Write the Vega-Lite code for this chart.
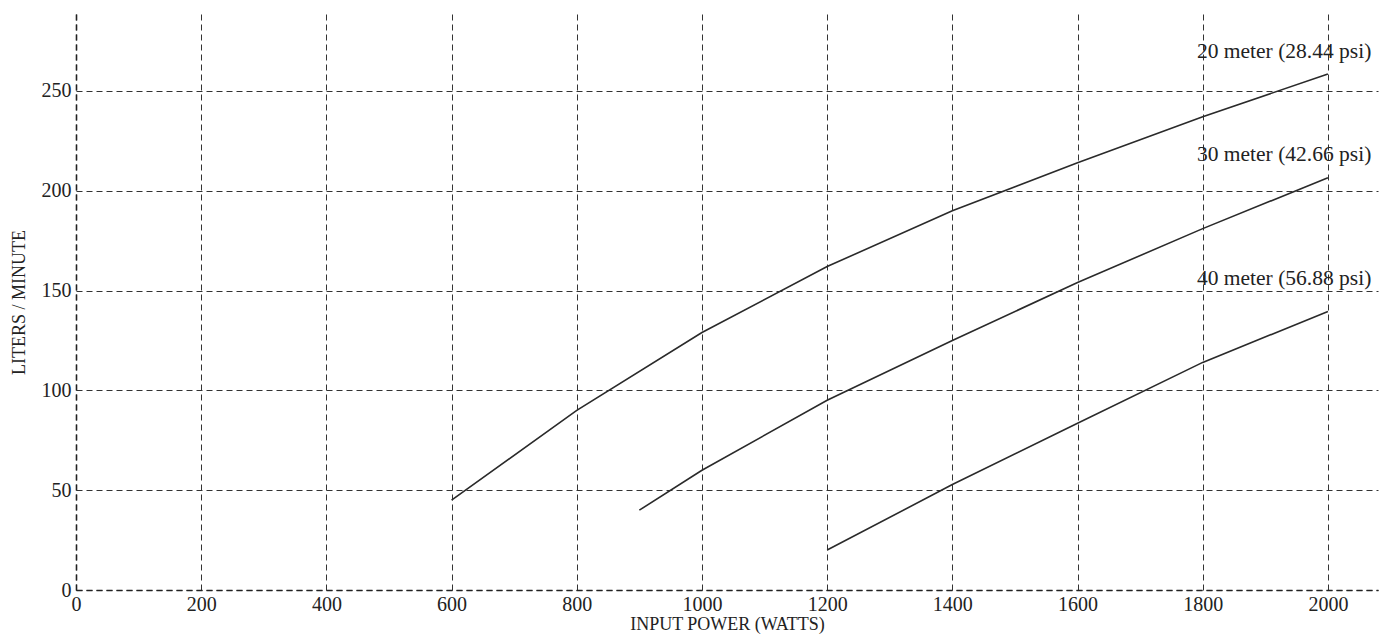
{
  "$schema": "https://vega.github.io/schema/vega-lite/v6.json",
  "width": 1302,
  "height": 576,
  "autosize": {"type": "none"},
  "padding": {"left": 76, "top": 14, "right": 4, "bottom": 47},
  "background": "white",
  "config": {
    "view": {"stroke": null},
    "font": "Liberation Serif",
    "axis": {
      "labelFont": "Liberation Serif",
      "titleFont": "Liberation Serif",
      "labelFontSize": 20,
      "titleFontSize": 18,
      "titleFontWeight": "normal",
      "labelColor": "#222",
      "titleColor": "#222",
      "grid": true,
      "gridColor": "#333",
      "gridDash": [6, 4],
      "gridWidth": 1,
      "gridOpacity": 1,
      "domainColor": "#222",
      "domainDash": [6, 4],
      "domainWidth": 1.6,
      "ticks": false
    }
  },
  "datasets": {
    "curves": [
      {"power": 600, "lpm": 45, "series": "20 meter"},
      {"power": 800, "lpm": 90, "series": "20 meter"},
      {"power": 1000, "lpm": 129, "series": "20 meter"},
      {"power": 1200, "lpm": 162, "series": "20 meter"},
      {"power": 1400, "lpm": 190, "series": "20 meter"},
      {"power": 1600, "lpm": 214, "series": "20 meter"},
      {"power": 1800, "lpm": 237, "series": "20 meter"},
      {"power": 2000, "lpm": 258.5, "series": "20 meter"},
      {"power": 900, "lpm": 40, "series": "30 meter"},
      {"power": 1000, "lpm": 60, "series": "30 meter"},
      {"power": 1200, "lpm": 95, "series": "30 meter"},
      {"power": 1400, "lpm": 125, "series": "30 meter"},
      {"power": 1600, "lpm": 154, "series": "30 meter"},
      {"power": 1800, "lpm": 181, "series": "30 meter"},
      {"power": 2000, "lpm": 206.5, "series": "30 meter"},
      {"power": 1200, "lpm": 20, "series": "40 meter"},
      {"power": 1400, "lpm": 52.8, "series": "40 meter"},
      {"power": 1600, "lpm": 83.5, "series": "40 meter"},
      {"power": 1800, "lpm": 114, "series": "40 meter"},
      {"power": 2000, "lpm": 139.5, "series": "40 meter"}
    ],
    "labels": [
      {"power": 1930, "lpm": 269.5, "text": "20 meter (28.44 psi)"},
      {"power": 1930, "lpm": 218, "text": "30 meter (42.66 psi)"},
      {"power": 1930, "lpm": 156, "text": "40 meter (56.88 psi)"}
    ]
  },
  "layer": [
    {
      "data": {"name": "curves"},
      "mark": {"type": "line", "color": "#2a2a2a", "strokeWidth": 1.6},
      "encoding": {
        "x": {
          "field": "power", "type": "quantitative",
          "scale": {"domain": [0, 2080], "nice": false, "zero": false},
          "axis": {"values": [0, 200, 400, 600, 800, 1000, 1200, 1400, 1600, 1800, 2000], "format": "d", "title": "INPUT POWER (WATTS)", "labelPadding": 4, "titlePadding": 1, "labelFlush": false}
        },
        "y": {
          "field": "lpm", "type": "quantitative",
          "scale": {"domain": [0, 288.5], "nice": false},
          "axis": {"values": [0, 50, 100, 150, 200, 250], "title": "LITERS / MINUTE", "labelPadding": 5, "titlePadding": 13, "labelFlush": false}
        },
        "detail": {"field": "series"}
      }
    },
    {
      "mark": {"type": "rule", "color": "#333", "strokeDash": [6, 4], "strokeWidth": 1},
      "encoding": {"y": {"datum": 288.5}}
    },
    {
      "data": {"name": "labels"},
      "mark": {"type": "text", "font": "Liberation Serif", "fontSize": 21.5, "color": "#222", "align": "center", "baseline": "middle"},
      "encoding": {
        "x": {"field": "power", "type": "quantitative"},
        "y": {"field": "lpm", "type": "quantitative"},
        "text": {"field": "text"}
      }
    }
  ]
}
